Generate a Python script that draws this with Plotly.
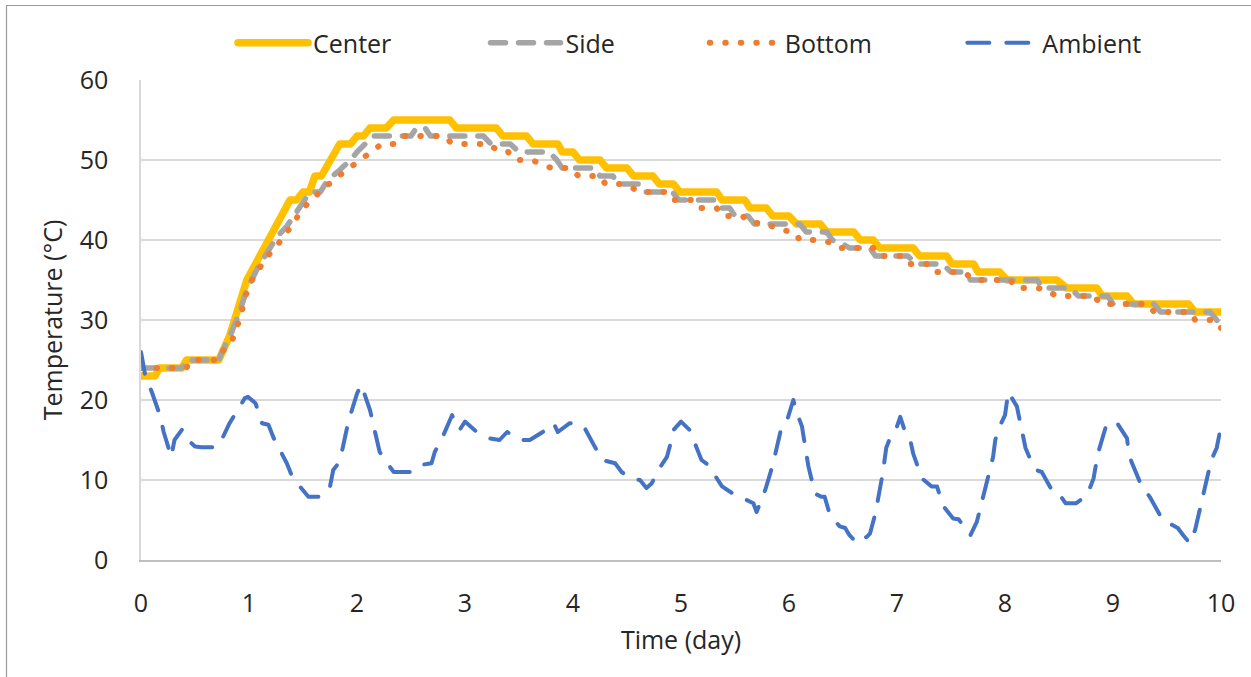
import plotly.graph_objects as go

# Temperature logger readings over ten days (°C)
center_day = [0, 0.13, 0.17, 0.38, 0.42, 0.72, 0.82, 0.92, 0.98, 1.10, 1.22, 1.38, 1.44, 1.50, 1.56,
              1.61, 1.67, 1.84, 1.94, 2.00, 2.06, 2.12, 2.27, 2.34, 2.86, 2.92, 3.29, 3.35, 3.57,
              3.63, 3.86, 3.90, 4.00, 4.06, 4.25, 4.31, 4.50, 4.56, 4.74, 4.80, 4.93, 4.99, 5.33,
              5.38, 5.59, 5.64, 5.79, 5.85, 6.00, 6.07, 6.29, 6.35, 6.60, 6.66, 6.78, 6.84, 7.15,
              7.21, 7.46, 7.51, 7.71, 7.75, 7.95, 8.02, 8.48, 8.57, 8.85, 8.90, 9.13, 9.19, 9.70,
              9.76, 10.0]
center_temp = [23, 23, 24, 24, 25, 25, 28, 32, 35, 38, 41, 45, 45, 46, 46,
               48, 48, 52, 52, 53, 53, 54, 54, 55, 55, 54, 54, 53, 53,
               52, 52, 51, 51, 50, 50, 49, 49, 48, 48, 47, 47, 46, 46,
               45, 45, 44, 44, 43, 43, 42, 42, 41, 41, 40, 40, 39, 39,
               38, 38, 37, 37, 36, 36, 35, 35, 34, 34, 33, 33, 32, 32,
               31, 31]

side_day = [0, 0.38, 0.42, 0.72, 0.75, 0.82, 0.90, 0.98, 1.08, 1.18, 1.26, 1.35, 1.50, 1.565,
            1.66, 1.73, 1.84, 1.94, 2.00, 2.10, 2.15, 2.50, 2.55, 2.63, 2.68, 3.17, 3.24, 3.42,
            3.50, 3.78, 3.85, 3.90, 4.20, 4.25, 4.37, 4.42, 4.62, 4.66, 4.92, 4.98, 5.32, 5.37,
            5.45, 5.50, 5.62, 5.68, 6.10, 6.16, 6.35, 6.40, 6.50, 6.56, 6.75, 6.80, 7.10, 7.18,
            7.42, 7.50, 7.62, 7.68, 8.30, 8.34, 8.60, 8.68, 8.95, 9.00, 9.38, 9.44, 9.90, 9.96,
            10.0]
side_temp = [24, 24, 25, 25, 26, 27.9, 30.5, 33.8, 36.5, 38.6, 40.4, 41.7, 44.6, 46,
             46, 47.5, 48.75, 50, 51, 52.5, 53, 53, 54, 54, 53, 53, 52, 52,
             51, 51, 50, 49, 49, 48, 48, 47, 47, 46, 46, 45, 45, 44,
             44, 43, 43, 42, 42, 41, 41, 40, 39.5, 39, 39, 38, 38, 37,
             37, 36, 36, 35, 35, 34, 34, 33, 33, 32, 32, 31, 31, 30,
             29]

bottom_day = [0, 0.42, 0.46, 0.72, 0.75, 0.84, 0.89, 0.93, 0.96, 1.01, 1.09, 1.16, 1.25, 1.32,
              1.41, 1.47, 1.56, 1.65, 1.74, 1.84, 1.94, 2.04, 2.14, 2.23, 2.37, 2.44, 2.80, 2.86,
              2.92, 3.22, 3.32, 3.40, 3.46, 3.62, 3.70, 3.80, 3.98, 4.05, 4.25, 4.30, 4.48, 4.57,
              4.62, 4.85, 4.90, 5.10, 5.15, 5.33, 5.38, 5.57, 5.63, 5.80, 5.90, 6.05, 6.10, 6.30,
              6.40, 6.46, 6.82, 6.87, 7.05, 7.10, 7.30, 7.35, 7.55, 7.64, 7.70, 8.05, 8.10, 8.30,
              8.40, 8.47, 8.83, 8.88, 9.33, 9.38, 9.72, 9.76, 9.95, 10.0]
bottom_temp = [24, 24, 25, 25, 26, 27.3, 29.2, 30.8, 32.7, 34.6, 36.3, 37.9, 39, 40.6,
               41.9, 43.5, 44.8, 46, 47, 48.1, 49.1, 50, 51, 52, 52, 53, 53, 52.3,
               52, 52, 51, 51, 50, 50, 49.5, 49, 49, 48, 48, 47, 47, 46.3,
               46, 46, 45, 45, 44, 44, 43, 43, 42.2, 42, 41.3, 41, 40, 40,
               39.6, 39, 39, 38, 38, 37, 37, 36, 36, 35.8, 35, 35, 34, 34,
               33.7, 33, 33, 32, 32, 31, 31, 30, 30, 29]

ambient_day = [0, 0.04, 0.10, 0.18, 0.21, 0.28, 0.31, 0.38, 0.45, 0.50, 0.56, 0.70, 0.76, 0.82,
               0.96, 0.99, 1.06, 1.12, 1.18, 1.23, 1.35, 1.40, 1.47, 1.55, 1.67, 1.75, 1.78, 1.84,
               1.89, 1.92, 2.00, 2.04, 2.12, 2.15, 2.21, 2.29, 2.34, 2.51, 2.60, 2.69, 2.72, 2.80,
               2.88, 2.95, 3.00, 3.11, 3.23, 3.32, 3.39, 3.51, 3.60, 3.72, 3.82, 3.86, 3.97, 4.04,
               4.10, 4.20, 4.27, 4.39, 4.45, 4.54, 4.62, 4.68, 4.73, 4.79, 4.87, 4.90, 4.93, 5.00,
               5.08, 5.14, 5.19, 5.25, 5.33, 5.38, 5.48, 5.60, 5.67, 5.70, 5.78, 5.85, 5.89, 5.92,
               5.96, 6.01, 6.04, 6.07, 6.12, 6.16, 6.18, 6.24, 6.30, 6.33, 6.38, 6.47, 6.52, 6.56,
               6.63, 6.72, 6.75, 6.80, 6.83, 6.87, 6.90, 6.94, 6.99, 7.03, 7.07, 7.12, 7.15, 7.23,
               7.32, 7.37, 7.43, 7.52, 7.57, 7.61, 7.68, 7.74, 7.80, 7.83, 7.89, 7.91, 7.95, 8.00,
               8.03, 8.11, 8.19, 8.25, 8.29, 8.34, 8.39, 8.46, 8.52, 8.56, 8.66, 8.76, 8.82, 8.86,
               8.93, 8.98, 9.03, 9.13, 9.14, 9.17, 9.26, 9.34, 9.46, 9.56, 9.60, 9.65, 9.71, 9.76,
               9.82, 9.85, 9.91, 9.96, 10.0]
ambient_temp = [26, 23, 21, 17.9, 16, 12.9, 15, 16.3, 14.8, 14.2, 14.1, 14.1, 15.4, 17.1,
                20.2, 20.4, 19.6, 17.1, 16.9, 15.2, 12.1, 10.4, 9.2, 7.9, 7.9, 9.2, 11.25, 12.3,
                15.4, 17.3, 20.8, 21.9, 18.75, 16.9, 13.5, 11.9, 11.0, 11.0, 11.9, 12.1, 13.5, 15.6,
                18.1, 16.25, 17.3, 16.0, 15.2, 15.0, 16.0, 15.0, 15.0, 16.0, 17.1, 16.0, 17.1, 17.0,
                16.7, 14.2, 12.5, 12.1, 11.0, 10.2, 10.0, 9.0, 9.6, 11.25, 12.9, 14.4, 16.25, 17.3,
                16.25, 14.2, 12.5, 11.9, 10.2, 9.2, 8.3, 7.5, 7.1, 6.0, 8.75, 11.9, 14.0, 16.0,
                16.5, 18.75, 20.0, 18.5, 16.7, 13.3, 11.7, 8.3, 7.9, 7.9, 5.6, 4.2, 4.0, 3.1,
                2.1, 2.9, 3.3, 5.8, 7.9, 11.0, 14.0, 15.4, 16.3, 17.9, 16.25, 15.2, 13.3, 10.2,
                9.2, 9.2, 6.7, 5.2, 5.1, 4.4, 3.1, 4.8, 7.9, 9.8, 12.9, 15.0, 16.7, 18.1,
                21.0, 19.2, 14.0, 12.1, 11.25, 11.0, 9.8, 8.1, 7.9, 7.1, 7.1, 8.1, 10.2, 13.3,
                16.5, 17.2, 17.3, 15.2, 14.0, 12.3, 9.4, 7.9, 5.0, 4.2, 4.0, 3.1, 2.1, 3.75,
                7.1, 9.0, 12.5, 14.0, 16.7]

x_ticks = [0, 1, 2, 3, 4, 5, 6, 7, 8, 9, 10]
y_ticks = [0, 10, 20, 30, 40, 50, 60]

FONT = "Open Sans"
TEXT = "#262626"

series = [
    ("Center", center_day, center_temp, dict(color="#FFC000", width=7.5, dash="solid"), "legend", 0.0852),
    ("Side", side_day, side_temp, dict(color="#A5A5A5", width=5.5, dash="15px,13px"), "legend2", 0.319),
    ("Bottom", bottom_day, bottom_temp, dict(color="#ED7D31", width=6, dash="0.5px,15px"), "legend3", 0.522),
    ("Ambient", ambient_day, ambient_temp, dict(color="#4472C4", width=4, dash="22px,17px"), "legend4", 0.7605),
]

fig = go.Figure()
layout_legends = {}
for name, xs, ys, line, leg, lx in series:
    fig.add_trace(go.Scatter(x=xs, y=ys, mode="lines", name=name, line=line,
                             legend=leg, uid=name.lower()))
    layout_legends[leg] = dict(
        x=lx, y=1.077, xanchor="left", yanchor="middle", orientation="h",
        font=dict(family=FONT, size=25, color=TEXT), itemwidth=70,
        bgcolor="rgba(0,0,0,0)", borderwidth=0,
    )

fig.update_layout(
    width=1251, height=677,
    margin=dict(l=141, r=30, t=80, b=117),
    paper_bgcolor="white", plot_bgcolor="white",
    font=dict(family=FONT, size=25, color=TEXT),
    showlegend=True,
    **layout_legends,
)

fig.update_xaxes(
    range=[0, 10], tickvals=x_ticks, ticktext=[str(v) for v in x_ticks],
    showgrid=False, zeroline=False, showline=True, linecolor="#BFBFBF", linewidth=1.5,
    ticks="", ticklabelstandoff=20,
    title=dict(text="Time (day)", standoff=14, font=dict(family=FONT, size=25, color=TEXT)),
    tickfont=dict(family=FONT, size=25, color=TEXT),
)
fig.update_yaxes(
    range=[0, 60], tickvals=y_ticks, ticktext=[str(v) for v in y_ticks],
    showgrid=True, gridcolor="#D9D9D9", gridwidth=2, zeroline=False,
    showline=True, linecolor="#D9D9D9", linewidth=1.5,
    ticks="", ticklabelstandoff=26,
    title=dict(text="Temperature (°C)", standoff=10, font=dict(family=FONT, size=25, color=TEXT)),
    tickfont=dict(family=FONT, size=25, color=TEXT),
)

# Outer chart border (runs off the right and bottom edges of the page)
fig.add_shape(type="rect", xref="paper", yref="paper",
              x0=(6.5 - 141) / 1080, x1=(1262 - 141) / 1080,
              y0=(560 - 690) / 480, y1=(560 - 5.5) / 480,
              line=dict(color="#9A9A9A", width=1.2), fillcolor="rgba(0,0,0,0)", layer="below")

# Rounded line caps so dotted and dashed strokes draw as round dots/dashes
round_caps = """
var st = document.createElement('style');
st.textContent = 'path.js-line { stroke-linecap: round; stroke-linejoin: round; }';
document.head.appendChild(st);
"""

fig.write_html("out.html", post_script=round_caps)
